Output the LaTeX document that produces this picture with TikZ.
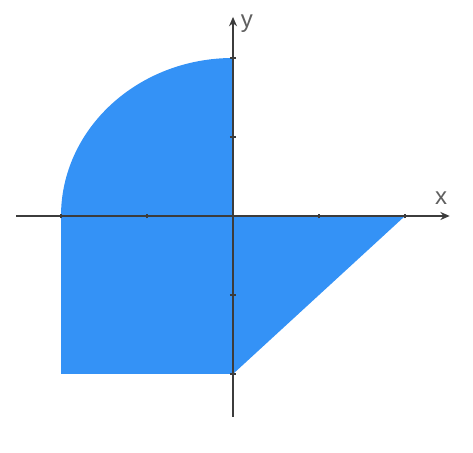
\documentclass[tikz,border=0pt]{standalone}
\usepackage{fontspec}
\setmainfont{Liberation Sans}
\usetikzlibrary{arrows.meta}
\definecolor{regionblue}{RGB}{52,146,246}
\definecolor{axisgray}{RGB}{60,60,60}
\definecolor{labelgray}{RGB}{95,95,95}
\tikzset{
  region/.style={fill=regionblue, draw=none},
  axisline/.style={draw=axisgray, line width=1.3pt, -{Stealth[length=7pt,width=6pt]}},
  tickmark/.style={draw=axisgray, line width=1.8pt},
  axislabel/.style={text=labelgray, font=\fontsize{18}{18}\selectfont, inner sep=0pt}
}
\begin{document}
\begin{tikzpicture}[x=0.75pt,y=0.75pt]
\useasboundingbox (0,0) rectangle (473,452);
\begin{scope}[shift={(233,236)}, x=64.5pt, y=59.25pt]
  % regions
  \fill[region] (0,0) -- (-2,0) arc[start angle=180, end angle=90, x radius=2, y radius=2] -- cycle;
  \fill[region] (-2,0) rectangle (0,-2);
  \fill[region] (0,0) -- (2,0) -- (0,-2) -- cycle;
  % axes
  \coordinate (xs) at (-2.52,0);
  \coordinate (xe) at (2.52,0);
  \coordinate (ys) at (0,-2.54);
  \coordinate (ye) at (0,2.52);
  \draw[axisline] (xs) -- (xe);
  \draw[axisline] (ys) -- (ye);
  % ticks
  \foreach \t in {-2,-1,1,2} {
    \draw[tickmark] (\t,-0.03) -- (\t,0.03);
    \draw[tickmark] (-0.035,\t) -- (0.035,\t);
  }
  % labels
  \node[axislabel] (xl) at (2.42,0.22) {x};
  \node[axislabel] (yl) at (0.16,2.44) {y};
\end{scope}
\end{tikzpicture}
\end{document}
